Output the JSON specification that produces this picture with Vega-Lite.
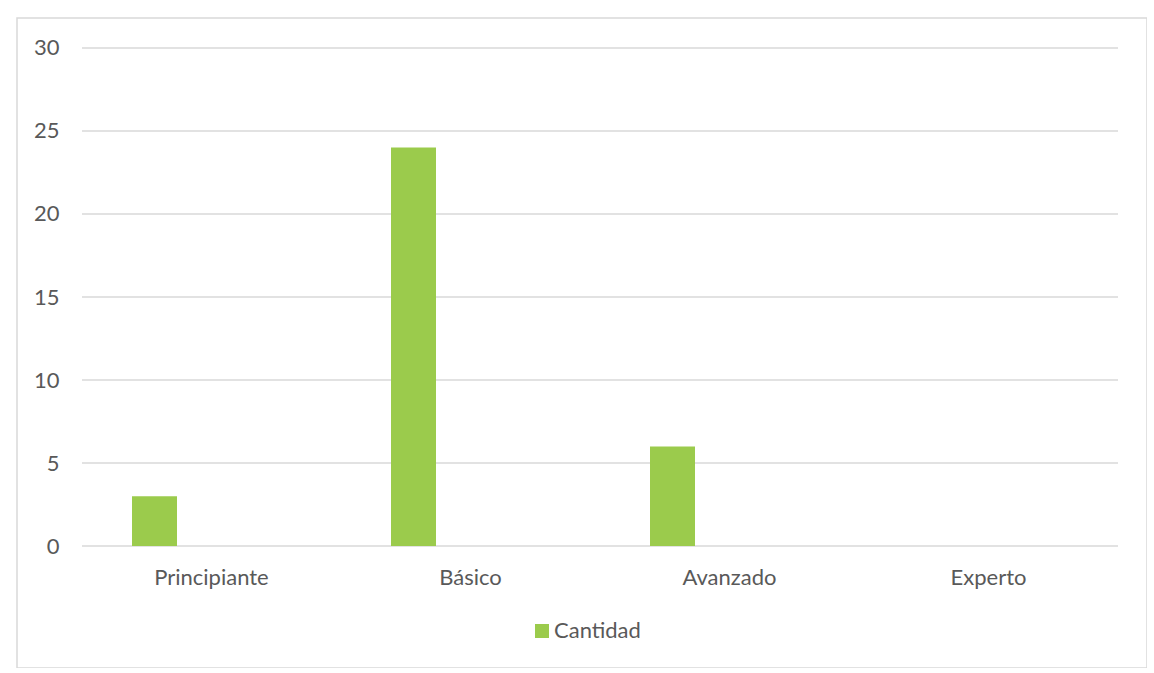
{
  "$schema": "https://vega.github.io/schema/vega-lite/v6.json",
  "width": 1130,
  "height": 650,
  "autosize": "none",
  "padding": {"left": 17, "top": 18, "right": 0, "bottom": 0},
  "background": "white",
  "config": {
    "view": {"stroke": "#d9d9d9", "strokeWidth": 1.5},
    "font": "Lato",
    "axisY": {
      "title": null,
      "domain": false,
      "ticks": false,
      "grid": false,
      "labelFont": "Lato",
      "labelFontSize": 22,
      "labelColor": "#595959",
      "labelPadding": 0,
      "labelAlign": "right",
      "offset": -42
    },
    "axisX": {
      "title": null,
      "domain": false,
      "ticks": false,
      "grid": false,
      "labelAngle": 0,
      "labelAlign": "center",
      "bandPosition": 0.5,
      "labelFont": "Lato",
      "labelFontSize": 22,
      "labelColor": "#595959",
      "labelPadding": 21,
      "offset": -122
    }
  },
  "datasets": {
    "niveles": [
      {"nivel": "Principiante", "serie": "Cantidad", "cantidad": 3},
      {"nivel": "Básico", "serie": "Cantidad", "cantidad": 24},
      {"nivel": "Avanzado", "serie": "Cantidad", "cantidad": 6},
      {"nivel": "Experto", "serie": "Cantidad", "cantidad": 0}
    ],
    "rejilla": [
      {"g": 0}, {"g": 5}, {"g": 10}, {"g": 15}, {"g": 20}, {"g": 25}, {"g": 30}
    ]
  },
  "layer": [
    {
      "data": {"name": "rejilla"},
      "mark": {"type": "rule", "color": "#d9d9d9", "strokeWidth": 1.3},
      "encoding": {
        "y": {
          "field": "g",
          "type": "quantitative",
          "scale": {"domain": [-7.349, 31.807], "nice": false, "zero": false},
          "axis": {"values": [0, 5, 10, 15, 20, 25, 30]}
        },
        "x": {"datum": "Principiante", "type": "nominal", "bandPosition": 0},
        "x2": {"datum": "Experto", "bandPosition": 1}
      }
    },
    {
      "data": {"name": "niveles"},
      "mark": {"type": "bar"},
      "encoding": {
        "x": {
          "field": "nivel",
          "type": "nominal",
          "sort": null,
          "scale": {
            "domain": ["Principiante", "Básico", "Avanzado", "Experto"],
            "paddingInner": 0,
            "paddingOuter": 0.18147,
            "align": 0.6915
          },
          "axis": {}
        },
        "xOffset": {
          "field": "serie",
          "type": "nominal",
          "scale": {
            "domain": ["Cantidad", "vacío"],
            "paddingInner": 0.6053,
            "paddingOuter": 0.4386
          }
        },
        "y": {
          "field": "cantidad",
          "type": "quantitative",
          "scale": {"domain": [-7.349, 31.807], "nice": false, "zero": false},
          "axis": {"values": [0, 5, 10, 15, 20, 25, 30]}
        },
        "color": {
          "field": "serie",
          "type": "nominal",
          "scale": {"domain": ["Cantidad"], "range": ["#9BCB4C"]},
          "legend": {
            "title": null,
            "orient": "none",
            "legendX": 514,
            "legendY": 602,
            "direction": "horizontal",
            "symbolType": "square",
            "symbolSize": 196,
            "symbolStrokeWidth": 0,
            "labelFont": "Lato",
            "labelFontSize": 22,
            "labelColor": "#595959",
            "labelOffset": 1,
            "padding": 0
          }
        }
      }
    }
  ]
}
